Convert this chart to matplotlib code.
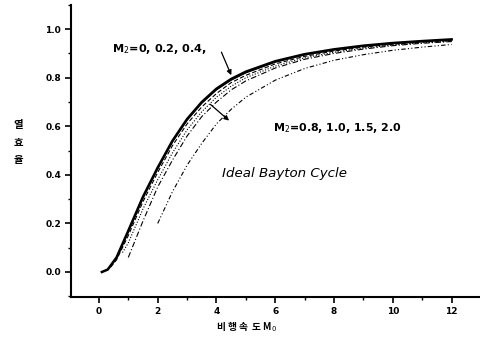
import matplotlib
matplotlib.use("Agg")
import matplotlib.pyplot as plt
from matplotlib.ticker import MultipleLocator

plt.rcParams['font.family'] = ['DejaVu Sans', 'Noto Sans CJK KR']

# Curves (flight Mach M0 vs. thermal efficiency)
m0_a = [0.1, 0.3, 0.6, 1.0, 1.5, 2.0, 2.5, 3.0, 3.5, 4.0, 4.5, 5.0, 6.0, 7.0, 8.0, 9.0, 10.0, 11.0, 12.0]
eff_m2_00 = [0.00, 0.01, 0.06, 0.17, 0.31, 0.43, 0.54, 0.63, 0.70, 0.755, 0.795, 0.825, 0.868, 0.897, 0.917, 0.932, 0.943, 0.951, 0.958]
eff_m2_02 = [0.00, 0.01, 0.055, 0.165, 0.305, 0.425, 0.535, 0.625, 0.695, 0.75, 0.79, 0.82, 0.864, 0.894, 0.915, 0.930, 0.941, 0.950, 0.956]
m0_b = [0.4, 0.6, 1.0, 1.5, 2.0, 2.5, 3.0, 3.5, 4.0, 4.5, 5.0, 6.0, 7.0, 8.0, 9.0, 10.0, 11.0, 12.0]
eff_m2_04 = [0.02, 0.05, 0.15, 0.29, 0.41, 0.52, 0.61, 0.68, 0.735, 0.78, 0.81, 0.857, 0.888, 0.910, 0.926, 0.938, 0.947, 0.953]
m0_c = [0.8, 1.0, 1.5, 2.0, 2.5, 3.0, 3.5, 4.0, 4.5, 5.0, 6.0, 7.0, 8.0, 9.0, 10.0, 11.0, 12.0]
eff_m2_08 = [0.08, 0.12, 0.26, 0.38, 0.49, 0.585, 0.66, 0.72, 0.765, 0.80, 0.848, 0.882, 0.905, 0.922, 0.935, 0.944, 0.951]
m0_d = [1.0, 1.5, 2.0, 2.5, 3.0, 3.5, 4.0, 4.5, 5.0, 6.0, 7.0, 8.0, 9.0, 10.0, 11.0, 12.0]
eff_m2_10 = [0.06, 0.21, 0.35, 0.46, 0.56, 0.64, 0.70, 0.75, 0.787, 0.84, 0.876, 0.90, 0.918, 0.932, 0.942, 0.949]
m0_e = [2.0, 2.5, 3.0, 3.5, 4.0, 4.5, 5.0, 6.0, 7.0, 8.0, 9.0, 10.0, 11.0, 12.0]
eff_m2_20 = [0.20, 0.33, 0.44, 0.53, 0.61, 0.67, 0.72, 0.79, 0.838, 0.872, 0.895, 0.913, 0.926, 0.937]

xticks = [0, 2, 4, 6, 8, 10, 12]
yticks = [0.0, 0.2, 0.4, 0.6, 0.8, 1.0]
ylabel_chars = ["열", "효", "율"]

fig = plt.figure(figsize=(4.81, 3.49), dpi=100)
ax = fig.add_axes([0.1476, 0.149, 0.8524, 0.837])

ax.plot(m0_a, eff_m2_00, color='black', lw=1.8, ls='-')
ax.plot(m0_a, eff_m2_02, color='black', lw=0.9, ls='-')
ax.plot(m0_b, eff_m2_04, color='black', lw=0.8, ls=(0, (4, 2)))
ax.plot(m0_c, eff_m2_08, color='black', lw=0.8, ls=(0, (1, 1.5)))
ax.plot(m0_d, eff_m2_10, color='black', lw=0.8, ls=(0, (5, 2, 1, 2)))
ax.plot(m0_e, eff_m2_20, color='black', lw=0.8, ls=(0, (4, 2, 1, 2, 1, 2)))

ax.set_xlim(-0.95, 13.0)
ax.set_ylim(-0.103, 1.1)
ax.set_xticks(xticks)
ax.set_xticklabels([str(t) for t in xticks])
ax.set_yticks(yticks)
ax.set_yticklabels([f"{t:.1f}" for t in yticks])
ax.xaxis.set_minor_locator(MultipleLocator(1))
ax.yaxis.set_minor_locator(MultipleLocator(0.1))
ax.tick_params(which='major', direction='out', length=4, width=1.2, labelsize=6.5, pad=3)
ax.tick_params(which='minor', direction='out', length=2, width=1.0)
for lbl in ax.get_xticklabels() + ax.get_yticklabels():
    lbl.set_fontweight('bold')
ax.spines['top'].set_visible(False)
ax.spines['right'].set_visible(False)
ax.spines['left'].set_linewidth(1.5)
ax.spines['bottom'].set_linewidth(1.5)

ax.text(0.44, 0.92, r"M$_2$=0, 0.2, 0.4,", fontsize=8.1, fontweight='bold', va='center')
ax.annotate("", xy=(4.54, 0.80), xytext=(4.13, 0.916),
            arrowprops=dict(arrowstyle='-|>', color='black', lw=0.9, mutation_scale=7))
ax.text(5.94, 0.595, r"M$_2$=0.8, 1.0, 1.5, 2.0", fontsize=7.9, fontweight='bold', va='center')
ax.annotate("", xy=(4.5, 0.616), xytext=(3.72, 0.698),
            arrowprops=dict(arrowstyle='-|>', color='black', lw=0.9, mutation_scale=7))
ax.text(4.2, 0.407, "Ideal Bayton Cycle", fontsize=9.6, style='italic', va='center')

for i, ch in enumerate(ylabel_chars):
    fig.text(18/481, 1 - (125 + 17.5*i)/349, ch, fontsize=7.5, fontweight='bold',
             ha='center', va='center', family=['Noto Sans CJK KR', 'DejaVu Sans'])
fig.text(247/481, 1 - 327/349, r"비 행 속  도 M$_0$", fontsize=7, fontweight='bold',
         ha='center', va='center', family=['Noto Sans CJK KR', 'DejaVu Sans'])

fig.savefig("out.png", dpi=100)
